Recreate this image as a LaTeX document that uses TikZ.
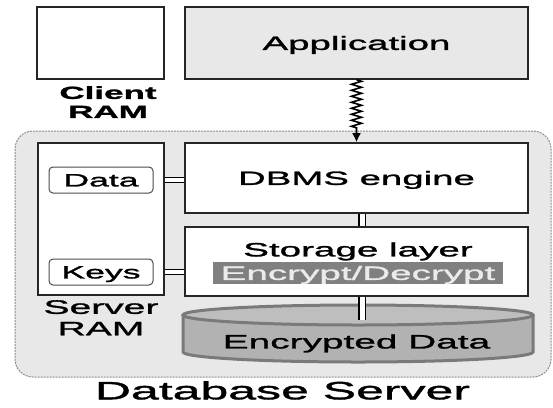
\documentclass[tikz,border=0pt]{standalone}
\usepackage{fontspec}
\setmainfont{Liberation Sans}[FakeStretch=2, FakeBold=1.5]
\usetikzlibrary{decorations.pathmorphing, arrows.meta}
\definecolor{srvgray}{HTML}{E8E8E8}
\definecolor{encgray}{HTML}{808080}
\definecolor{cylline}{HTML}{7A7A7A}
\definecolor{cylbody}{HTML}{B2B2B2}
\definecolor{cyltop}{HTML}{BEBEBE}
\tikzset{
  box/.style={draw=black!85, line width=1.6pt, inner sep=0pt, fill=white,
    text height=13.8pt, text depth=0pt, font=\fontsize{19.2}{22}\selectfont},
  ramtag/.style={draw=black!70, rounded corners=4pt, fill=white, line width=1pt,
    minimum width=104pt, minimum height=26pt, inner sep=0pt,
    text height=12.8pt, text depth=0pt, font=\fontsize{17.8}{20}\selectfont},
  frame/.style={draw=black!45, dash pattern=on 2pt off 1pt, fill=srvgray,
    rounded corners=18pt, line width=1pt},
  link/.style={draw=black, line width=1.2pt, double=white, double distance=3.5pt},
  zz/.style={line width=1.6pt, decorate, decoration={zigzag, amplitude=5pt,
    segment length=6pt, post length=12pt}}
}
\begin{document}
\begin{tikzpicture}[x=1pt, y=-1pt]
\useasboundingbox (0,0) rectangle (553,407);
% server frame
\node[frame, minimum width=536pt, minimum height=246pt] (srv) at (283,254) {};

% nodes
\node[box, minimum width=127pt, minimum height=72pt] (cbox) at (100.5,43) {};
\node[anchor=north, align=center, inner sep=0pt,
  font=\bfseries\fontsize{17.5}{19}\selectfont] (clbl) at (108,86) {Client\\RAM};
\node[box, fill=srvgray, minimum width=343pt, minimum height=72pt] (app) at (356.5,43) {Application};

\node[box, minimum width=126pt, minimum height=152pt] (sram) at (101,219) {};
\node[ramtag] (data) at (101,180) {Data};
\node[ramtag] (keys) at (101,272) {Keys};
\node[anchor=north, align=center, inner sep=0pt,
  font=\fontsize{19.5}{21.5}\selectfont] (slbl) at (101,300) {Server\\RAM};

\node[box, minimum width=343pt, minimum height=70pt] (dbms) at (356.5,178) {DBMS engine};
\node[box, minimum width=343pt, minimum height=69pt] (stor) at (356.5,261.5) {};
\node[inner sep=0pt, text height=13.8pt, text depth=0pt,
  font=\fontsize{19.3}{22}\selectfont] (slay) at (358,249.5) {Storage layer};
\node[fill=encgray, text=white!92!black, inner sep=0pt, minimum width=290pt,
  minimum height=22pt, text height=13.8pt, text depth=0pt,
  font=\fontsize{19.3}{22}\selectfont] (enc) at (358,273) {Encrypt/Decrypt};

% disk
\fill[cylbody] (183,315) -- (183,352) arc[start angle=180, end angle=0,
  x radius=175, y radius=10] -- (533,315) -- cycle;
\draw[cylline, line width=3pt] (183,315) -- (183,352) arc[start angle=180,
  end angle=0, x radius=175, y radius=10] -- (533,315);
\draw[cylline, line width=3pt, fill=cyltop] (358,315) ellipse [x radius=175, y radius=10];
\coordinate (dtop) at (362,320);
\node[inner sep=0pt, text height=13.9pt, text depth=0pt,
  font=\fontsize{19.4}{22}\selectfont] (edata) at (356.5,341.5) {Encrypted Data};

\node[anchor=north, inner sep=0pt, font=\fontsize{25}{28}\selectfont] (dbsrv)
  at (282.5,381) {Database Server};

% arrows
\draw[zz, -{Latex[length=9pt, width=9pt]}] (app.south) -- (dbms.north);
\draw[link] (sram.east |- data) -- (dbms.west |- data);
\draw[link] (sram.east |- keys) -- (stor.west |- keys);
\draw[link, double distance=5pt] ([xshift=5.5pt]dbms.south) -- ([xshift=5.5pt]stor.north);
\draw[link, double distance=5pt] ([xshift=5.5pt]stor.south) -- (dtop);
\end{tikzpicture}
\end{document}
